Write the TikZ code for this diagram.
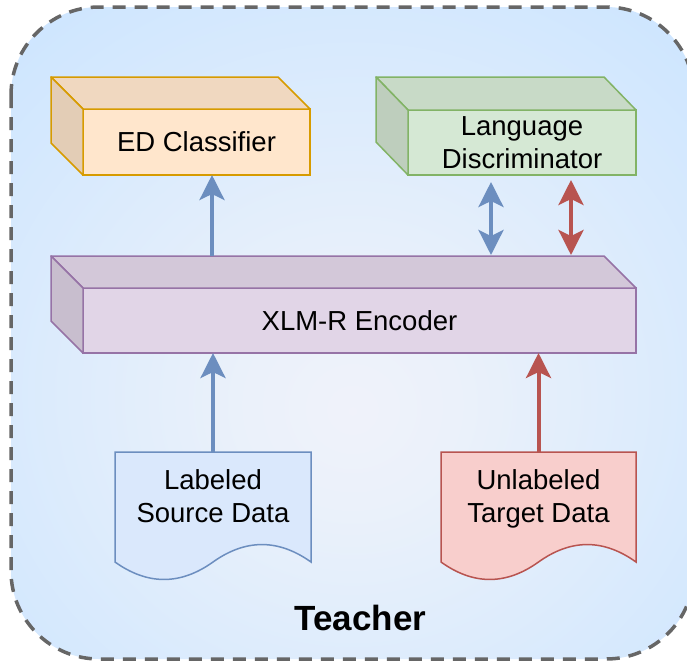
\documentclass[tikz,border=0pt]{standalone}
\usepackage{fontspec}
\setmainfont{Liberation Sans}
\usetikzlibrary{arrows.meta}
\definecolor{edfill}{HTML}{FFE6CC}
\definecolor{edline}{HTML}{D79B00}
\definecolor{ldfill}{HTML}{D5E8D4}
\definecolor{ldline}{HTML}{82B366}
\definecolor{encfill}{HTML}{E1D5E7}
\definecolor{encline}{HTML}{9673A6}
\definecolor{srcfill}{HTML}{DAE8FC}
\definecolor{srcline}{HTML}{6C8EBF}
\definecolor{tgtfill}{HTML}{F8CECC}
\definecolor{tgtline}{HTML}{B85450}
\definecolor{outline}{HTML}{666666}
\pgfdeclareradialshading{bgshade}{\pgfpoint{0bp}{-6bp}}{rgb(0bp)=(0.94,0.95,0.98); rgb(8bp)=(0.92,0.945,0.98); rgb(38bp)=(0.80,0.898,1); rgb(100bp)=(0.80,0.898,1)}
\newcommand\lblfont{\fontsize{27.5}{33}\selectfont}
\begin{document}
\begin{tikzpicture}[x=1pt,y=-1pt,
  face/.style={line width=1.5pt, inner sep=0pt, outer sep=0pt, anchor=north west, font=\lblfont, align=center},
  side/.style={line width=1.5pt, line join=round},
  docbox/.style={inner sep=0pt, outer sep=0pt, anchor=north west, font=\lblfont, align=center, minimum height=94pt},
  arr/.style={line width=4pt, -{Stealth[length=25pt,width=25pt,inset=6pt]}},
  darr/.style={line width=4pt, {Stealth[length=25pt,width=25pt,inset=6pt]}-{Stealth[length=25pt,width=25pt,inset=6pt]}}
]
\useasboundingbox (0,0) rectangle (687,662);
\clip (0,0) rectangle (687,662);
% background
\path[shading=bgshade, rounded corners=88pt] (11,7) rectangle (694,659);
\draw[outline, line width=3.5pt, dash pattern=on 13pt off 9pt, rounded corners=88pt] (11,7) rectangle (694,659);

% ED Classifier cube
\node[face, draw=edline, fill=edfill, minimum width=227pt, minimum height=66pt] (ed) at (83,109) {ED Classifier};
\draw[side, draw=edline, fill=edfill!94!black] (ed.north west) -- ++(-32,-32) -- ([shift={(-32,-32)}]ed.north east) -- (ed.north east) -- cycle;
\draw[side, draw=edline, fill=edfill!89!black] (ed.north west) -- ++(-32,-32) -- ([shift={(-32,-32)}]ed.south west) -- (ed.south west) -- cycle;

% Language Discriminator cube
\node[face, draw=ldline, fill=ldfill, minimum width=228pt, minimum height=65pt] (ld) at (408,110) {Language\\Discriminator};
\draw[side, draw=ldline, fill=ldfill!94!black] (ld.north west) -- ++(-32,-33) -- ([shift={(-32,-33)}]ld.north east) -- (ld.north east) -- cycle;
\draw[side, draw=ldline, fill=ldfill!89!black] (ld.north west) -- ++(-32,-33) -- ([shift={(-32,-33)}]ld.south west) -- (ld.south west) -- cycle;

% XLM-R Encoder cube
\node[face, draw=encline, fill=encfill, minimum width=553pt, minimum height=65pt] (enc) at (83,288) {XLM-R Encoder};
\draw[side, draw=encline, fill=encfill!94!black] (enc.north west) -- ++(-32,-32) -- ([shift={(-32,-32)}]enc.north east) -- (enc.north east) -- cycle;
\draw[side, draw=encline, fill=encfill!89!black] (enc.north west) -- ++(-32,-32) -- ([shift={(-32,-32)}]enc.south west) -- (enc.south west) -- cycle;

% Labeled source document
\coordinate (srcNW) at (115,452);
\begin{scope}[shift={(srcNW)}]
\draw[line width=1.5pt, draw=srcline, fill=srcfill] (0,0) -- (196,0) -- (196,110) .. controls (163.33,86.73) and (130.67,86.73) .. (98,110) .. controls (65.33,133.27) and (32.67,133.27) .. (0,110) -- cycle;
\end{scope}
\node[docbox, minimum width=196pt] (src) at (srcNW) {Labeled\\Source Data\vphantom{g}};

% Unlabeled target document
\coordinate (tgtNW) at (441,452);
\begin{scope}[shift={(tgtNW)}]
\draw[line width=1.5pt, draw=tgtline, fill=tgtfill] (0,0) -- (195,0) -- (195,110) .. controls (162.5,86.73) and (130,86.73) .. (97.5,110) .. controls (65,133.27) and (32.5,133.27) .. (0,110) -- cycle;
\end{scope}
\node[docbox, minimum width=195pt] (tgt) at (tgtNW) {Unlabeled\\Target Data};

% Teacher label
\node[font=\fontsize{35}{42}\selectfont\bfseries] (teacher) at (360.5,618) {Teacher};

% arrows
\coordinate (edin) at (212,256);
\draw[arr, srcline] (edin) -- (edin |- ed.south);
\draw[arr, srcline] (src.north) -- (src.north |- enc.south);
\draw[arr, tgtline] (tgt.north) -- (tgt.north |- enc.south);
\coordinate (dblue) at (491,255);
\coordinate (dred) at (571,255);
\draw[darr, srcline, shorten >=7pt] (dblue) -- (dblue |- ld.south);
\draw[darr, tgtline, shorten >=5pt] (dred) -- (dred |- ld.south);
\end{tikzpicture}
\end{document}
